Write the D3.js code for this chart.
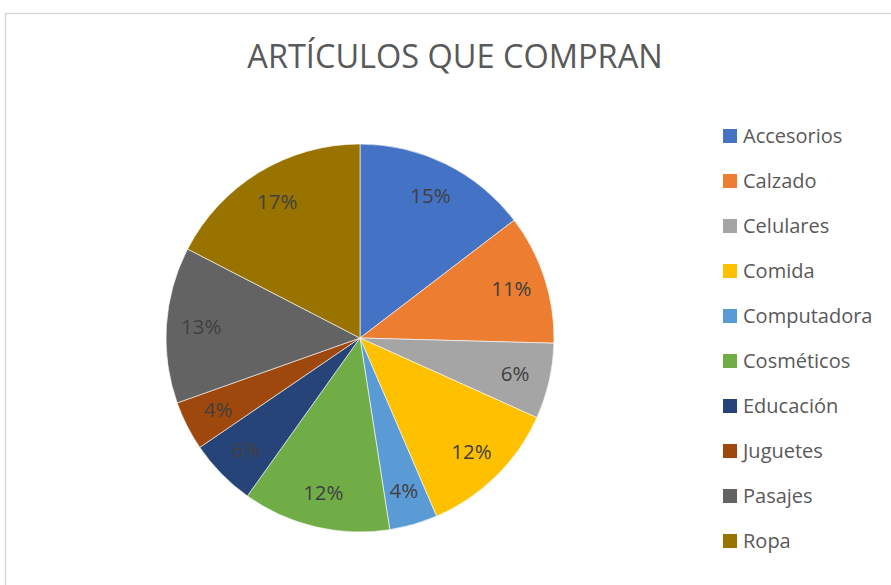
<!DOCTYPE html>
<html>
<head>
<meta charset="utf-8">
<script src="https://cdn.jsdelivr.net/npm/d3@7"></script>
<style>
  body { margin: 0; background: #fff; }
  svg { display: block; font-family: "Open Sans", "Noto Sans", sans-serif; }
</style>
</head>
<body>
<svg class="main-svg" width="891" height="585"></svg>
<script>
const title = "ARTÍCULOS QUE COMPRAN";
const categories = ["Accesorios", "Calzado", "Celulares", "Comida", "Computadora",
  "Cosméticos", "Educación", "Juguetes", "Pasajes", "Ropa"];
const values = [14.6, 10.8, 6.3, 11.8, 4.0, 12.3, 5.6, 4.1, 13.0, 17.4];
const colors = ["#4472C4", "#ED7D31", "#A5A5A5", "#FFC000", "#5B9BD5",
  "#70AD47", "#264478", "#9E480E", "#636363", "#997300"];

const svg = d3.select(".main-svg");
const width = 891, height = 585;

// chart area frame (runs off the right/bottom edge)
svg.append("rect")
  .attr("x", 5.5).attr("y", 13.5)
  .attr("width", width + 10).attr("height", height + 10)
  .attr("fill", "#fff")
  .attr("stroke", "#d9d9d9")
  .attr("stroke-width", 1.5);

svg.append("text")
  .attr("x", 455).attr("y", 68)
  .attr("text-anchor", "middle")
  .attr("fill", "#595959")
  .attr("font-size", 32.5)
  .text(title);

const cx = 360, cy = 338, r = 194;
const total = d3.sum(values);
const data = categories.map((c, i) => ({ name: c, value: values[i], color: colors[i] }));

const pie = d3.pie().value(d => d.value).sort(null);
const arc = d3.arc().innerRadius(0).outerRadius(r);
const labelArc = d3.arc().innerRadius(r * 0.82).outerRadius(r * 0.82);

const g = svg.append("g").attr("transform", `translate(${cx},${cy})`);
const arcs = pie(data);

g.selectAll("path")
  .data(arcs)
  .join("path")
  .attr("d", arc)
  .attr("fill", d => d.data.color)
  .attr("stroke", "#fff")
  .attr("stroke-width", 0.6);

g.selectAll("text")
  .data(arcs)
  .join("text")
  .attr("transform", d => `translate(${labelArc.centroid(d)})`)
  .attr("text-anchor", "middle")
  .attr("dy", "0.35em")
  .attr("fill", "#404040")
  .attr("font-size", 20.5)
  .text(d => Math.round(d.data.value / total * 100) + "%");

// legend
const legend = svg.append("g").attr("transform", "translate(723,136)");
const row = legend.selectAll("g")
  .data(data)
  .join("g")
  .attr("transform", (d, i) => `translate(0,${i * 45})`);

row.append("rect")
  .attr("x", 0).attr("y", -7)
  .attr("width", 14).attr("height", 14)
  .attr("fill", d => d.color);

row.append("text")
  .attr("x", 20).attr("y", 0)
  .attr("dy", "0.35em")
  .attr("fill", "#595959")
  .attr("font-size", 20)
  .text(d => d.name);
</script>
</body>
</html>
